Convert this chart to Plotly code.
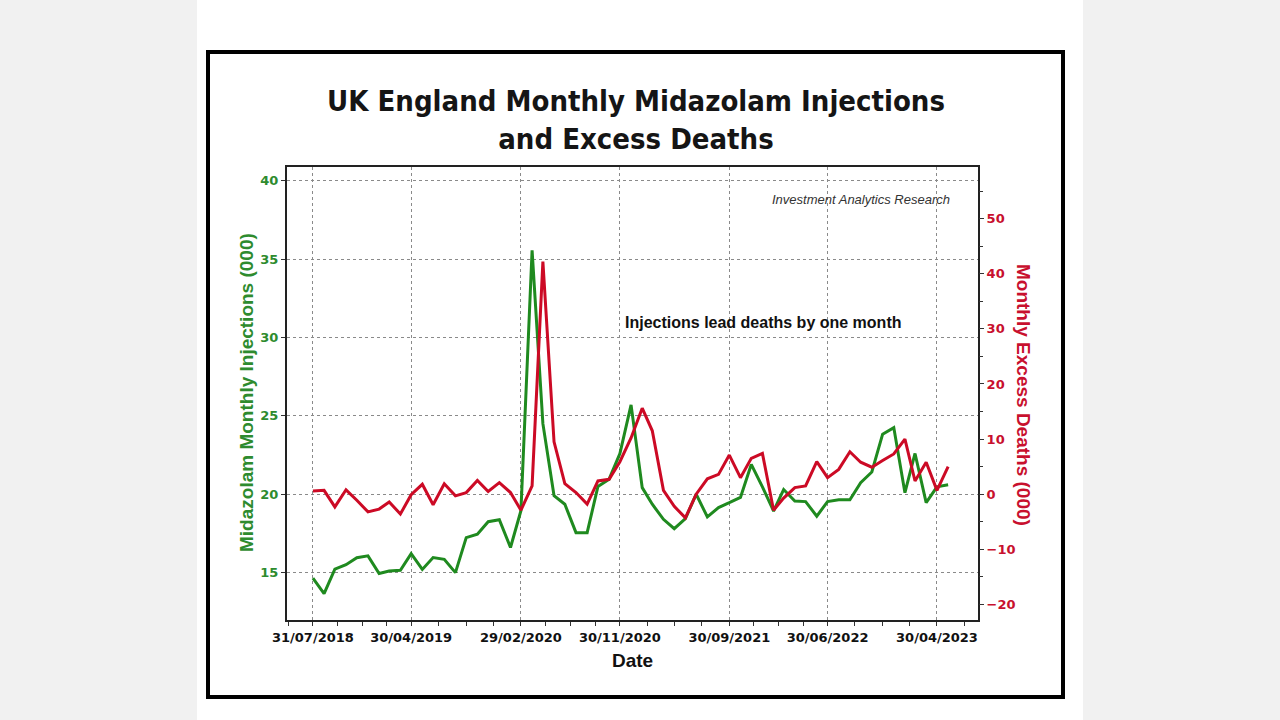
import pandas as pd
import plotly.graph_objects as go

# ---- data ----
start_month = "2018-07-31"
injections = [14.64, 13.66, 15.22, 15.5, 15.95, 16.07, 14.94, 15.1, 15.15, 16.21,
              15.2, 15.96, 15.85, 15.0, 17.23, 17.45, 18.25, 18.37, 16.6, 18.95,
              35.56, 24.5, 19.9, 19.36, 17.55, 17.55, 20.5, 20.96, 22.6, 25.7,
              20.42, 19.36, 18.4, 17.8, 18.45, 20.0, 18.55, 19.15, 19.46, 19.8,
              21.9, 20.47, 18.93, 20.3, 19.57, 19.53, 18.6, 19.53, 19.65, 19.65,
              20.74, 21.42, 23.83, 24.25, 20.1, 22.6, 19.46, 20.47, 20.6]
excess_deaths = [0.6, 0.7, -2.3, 0.8, -1.1, -3.2, -2.7, -1.4, -3.6, -0.1,
                 1.8, -1.9, 1.9, -0.3, 0.3, 2.5, 0.5, 2.1, 0.3, -2.9,
                 1.5, 42.2, 9.5, 1.9, 0.3, -1.8, 2.4, 2.7, 5.9, 10.2,
                 15.6, 11.5, 0.7, -2.2, -4.3, 0.0, 2.8, 3.6, 7.1, 3.0,
                 6.5, 7.4, -2.9, -0.7, 1.2, 1.5, 5.9, 3.0, 4.5, 7.7,
                 5.8, 4.9, 6.1, 7.3, 10.0, 2.4, 5.8, 0.7, 5.0]
x_tick_dates = ["2018-07-31", "2019-04-30", "2020-02-29", "2020-11-30",
                "2021-09-30", "2022-06-30", "2023-04-30"]
x_tick_labels = ["31/07/2018", "30/04/2019", "29/02/2020", "30/11/2020",
                 "30/09/2021", "30/06/2022", "30/04/2023"]
left_ticks = [15, 20, 25, 30, 35, 40]
right_ticks = [-20, -10, 0, 10, 20, 30, 40, 50]

dates = pd.date_range(start=start_month, periods=len(injections), freq=pd.offsets.MonthEnd())

# minor tick dates: quarter points between the labelled dates (styling only)
tk = pd.to_datetime(x_tick_dates)
minor_dates = []
for a, b in zip(tk[:-1], tk[1:]):
    step = (b - a) / 4
    for k in range(1, 4):
        minor_dates.append(a + step * k)
minor_dates.append(tk[-1] + (tk[-1] - tk[-2]) / 4)
minor_dates.insert(0, tk[0] - (tk[1] - tk[0]) / 4)

GREEN = "#1f8a1f"
RED = "#cc0a25"
GREEN_TXT = "#2e8b2e"
RED_TXT = "#c8102e"

fig = go.Figure()
fig.add_trace(go.Scatter(x=dates, y=injections, mode="lines",
                         line=dict(color=GREEN, width=3), yaxis="y",
                         name="Injections", showlegend=False))
fig.add_trace(go.Scatter(x=dates, y=excess_deaths, mode="lines",
                         line=dict(color=RED, width=3), yaxis="y2",
                         name="Excess deaths", showlegend=False))

W, H = 1280, 720
L, R, T, B = 287, 978, 167, 620

def px(xpix):
    return (xpix - L) / (R - L)

def py(ypix):
    return (B - ypix) / (B - T)

fig.update_layout(
    width=W, height=H,
    margin=dict(l=L, r=W - R, t=T, b=H - B),
    paper_bgcolor="#f1f1f1",
    plot_bgcolor="white",
    font=dict(family="DejaVu Sans", color="#111"),
    title=dict(text="UK England Monthly Midazolam Injections<br>and Excess Deaths",
               x=636 / W, y=1 - 111 / H, xanchor="center", yanchor="middle",
               font=dict(family="DejaVu Sans Condensed, DejaVu Sans", size=29,
                         color="#151515", weight="bold")),
    xaxis=dict(
        type="date",
        range=["2018-05-20", "2023-08-22"],
        tickmode="array", tickvals=x_tick_dates, ticktext=x_tick_labels,
        tickfont=dict(family="DejaVu Sans", size=13, color="#111", weight="bold"),
        ticks="outside", ticklen=4, tickcolor="#333", tickwidth=1,
        showgrid=True, gridcolor="#8a8a8a", griddash="dot", gridwidth=1,
        showline=True, linecolor="#222", linewidth=2, mirror=True,
        zeroline=False,
        minor=dict(tickvals=minor_dates, ticks="outside", ticklen=4,
                   tickcolor="#333", showgrid=False),
    ),
    yaxis=dict(
        range=[11.976, 40.876],
        tickmode="array", tickvals=left_ticks,
        tickfont=dict(family="DejaVu Sans", size=13, color=GREEN_TXT, weight="bold"),
        ticks="outside", ticklen=4, tickcolor="#333",
        showgrid=True, gridcolor="#8a8a8a", griddash="dot", gridwidth=1,
        showline=True, linecolor="#222", linewidth=2, mirror=True,
        zeroline=False,
    ),
    yaxis2=dict(
        overlaying="y", side="right",
        range=[-22.82, 59.36],
        tickmode="array", tickvals=right_ticks,
        tickfont=dict(family="DejaVu Sans", size=13, color=RED_TXT, weight="bold"),
        ticks="outside", ticklen=5, tickcolor="#333",
        showgrid=False, zeroline=False, showline=False,
        minor=dict(dtick=5, tick0=0, ticks="outside", ticklen=4, tickcolor="#333"),
    ),
    shapes=[
        dict(type="rect", xref="paper", yref="paper",
             x0=px(197), x1=px(1083), y0=py(H), y1=py(0),
             fillcolor="white", line=dict(width=0), layer="below"),
        dict(type="rect", xref="paper", yref="paper",
             x0=px(208), x1=px(1063), y0=py(697), y1=py(52),
             fillcolor="rgba(0,0,0,0)", line=dict(color="black", width=4),
             layer="below"),
    ],
    annotations=[
        dict(text="Midazolam Monthly Injections (000)", xref="paper", yref="paper",
             x=px(246), y=py(393), textangle=-90, showarrow=False,
             xanchor="center", yanchor="middle",
             font=dict(family="Liberation Sans", size=19, color=GREEN_TXT, weight="bold")),
        dict(text="Monthly Excess Deaths (000)", xref="paper", yref="paper",
             x=px(1024), y=py(395), textangle=90, showarrow=False,
             xanchor="center", yanchor="middle",
             font=dict(family="Liberation Sans", size=19, color=RED_TXT, weight="bold")),
        dict(text="Date", xref="paper", yref="paper",
             x=px(632), y=py(660), showarrow=False,
             xanchor="center", yanchor="middle",
             font=dict(family="Liberation Sans", size=19, color="#111", weight="bold")),
        dict(text="Injections lead deaths by one month", xref="paper", yref="paper",
             x=px(763), y=py(322), showarrow=False,
             xanchor="center", yanchor="middle",
             font=dict(family="Liberation Sans", size=16, color="#111", weight="bold")),
        dict(text="<i>Investment Analytics Research</i>", xref="paper", yref="paper",
             x=px(952), y=py(199), showarrow=False,
             xanchor="right", yanchor="middle",
             font=dict(family="Liberation Sans", size=13, color="#333")),
    ],
)

fig.write_html("out.html",
               config={"displayModeBar": False},
               post_script="document.body.style.margin='0';document.body.style.overflow='hidden';")
